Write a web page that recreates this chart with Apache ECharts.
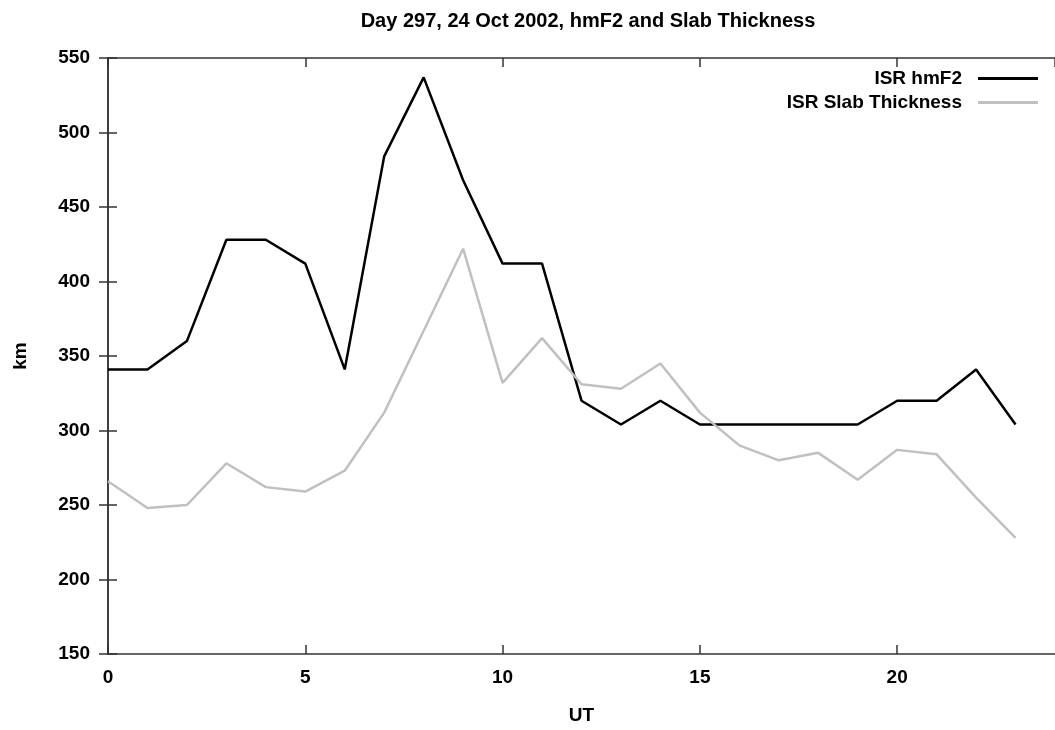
<!DOCTYPE html>
<html><head><meta charset="utf-8">
<script src="https://cdn.jsdelivr.net/npm/echarts@6/dist/echarts.min.js"></script>
<style>html,body{margin:0;padding:0;background:#fff}#c{width:1055px;height:730px}</style>
</head><body><div id="c"></div>
<script>
const titleText = 'Day 297, 24 Oct 2002, hmF2 and Slab Thickness';
const seriesNames = ['ISR hmF2', 'ISR Slab Thickness'];
const hours = [0,1,2,3,4,5,6,7,8,9,10,11,12,13,14,15,16,17,18,19,20,21,22,23];
const hmF2 = [341,341,360,428,428,412,341,484,537,468,412,412,320,304,320,304,304,304,304,304,320,320,341,304];
const slab = [266,248,250,278,262,259,273,312,367,422,332,362,331,328,345,312,290,280,285,267,287,284,255,228];

const FONT = '"Liberation Sans", Arial, Helvetica, sans-serif';
const chart = echarts.init(document.getElementById('c'), null, {renderer: 'canvas'});
const axisLine = {show: true, lineStyle: {color: '#333', width: 1.5}};
const axisTick = {show: true, inside: true, length: 9, lineStyle: {color: '#333', width: 1.5}};
const labelStyle = {color: '#000', fontFamily: FONT, fontWeight: 'bold', fontSize: 19};

chart.setOption({
  animation: false,
  backgroundColor: '#fff',
  title: {
    text: titleText, left: 583, top: 6, textAlign: 'center',
    textStyle: {color: '#000', fontFamily: FONT, fontWeight: 'bold', fontSize: 20}
  },
  legend: [
    {data: [seriesNames[0]], icon: 'rect', right: 17, top: 69, padding: 0, itemWidth: 60, itemHeight: 3,
     align: 'right', textStyle: Object.assign({padding: [0, 11, 0, 0]}, labelStyle)},
    {data: [seriesNames[1]], icon: 'rect', right: 17, top: 93, padding: 0, itemWidth: 60, itemHeight: 3,
     align: 'right', textStyle: Object.assign({padding: [0, 11, 0, 0]}, labelStyle)}
  ],
  grid: {left: 108, right: -7, top: 58, bottom: 73, containLabel: false},
  xAxis: [
    {type: 'value', min: 0, max: 24, interval: 5, position: 'bottom',
     name: 'UT', nameLocation: 'middle', nameGap: 52, nameTextStyle: labelStyle,
     axisLine: axisLine, axisTick: axisTick, splitLine: {show: false},
     axisLabel: Object.assign({margin: 14, showMaxLabel: false}, labelStyle)},
    {type: 'value', min: 0, max: 24, interval: 5, position: 'top',
     axisLine: axisLine, axisTick: axisTick, splitLine: {show: false},
     axisLabel: {show: false}}
  ],
  yAxis: [
    {type: 'value', min: 150, max: 550, interval: 50, position: 'left',
     name: 'km', nameLocation: 'middle', nameGap: 78, nameTextStyle: labelStyle,
     axisLine: axisLine, axisTick: axisTick, splitLine: {show: false},
     axisLabel: Object.assign({margin: 18}, labelStyle)},
    {type: 'value', min: 150, max: 550, interval: 50, position: 'right',
     axisLine: axisLine, axisTick: axisTick, splitLine: {show: false},
     axisLabel: {show: false}}
  ],
  series: [
    {name: seriesNames[0], type: 'line', xAxisIndex: 0, yAxisIndex: 0,
     symbol: 'none', showSymbol: false,
     lineStyle: {color: '#000', width: 2.5}, itemStyle: {color: '#000'},
     data: hours.map((h, i) => [h, hmF2[i]])},
    {name: seriesNames[1], type: 'line', xAxisIndex: 0, yAxisIndex: 0,
     symbol: 'none', showSymbol: false,
     lineStyle: {color: '#c0c0c0', width: 2.5}, itemStyle: {color: '#c0c0c0'},
     data: hours.map((h, i) => [h, slab[i]])}
  ]
});
</script></body></html>
